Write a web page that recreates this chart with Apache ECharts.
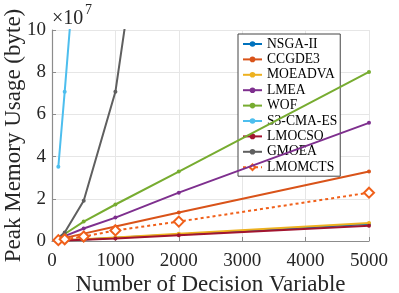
<!DOCTYPE html>
<html><head><meta charset="utf-8">
<script src="https://cdn.jsdelivr.net/npm/echarts@6/dist/echarts.min.js"></script>
<style>html,body{margin:0;padding:0;background:#fff}#c{width:399px;height:293px}</style>
</head><body><div id="c"></div>
<script>
const decisionVars = [100, 200, 500, 1000, 2000, 5000];
const nsga2   = [0.015e7, 0.03e7, 0.075e7, 0.15e7, 0.31e7, 0.80e7];
const ccgde3  = [0.07e7, 0.14e7, 0.35e7, 0.69e7, 1.35e7, 3.29e7];
const moeadva = [0.02e7, 0.035e7, 0.085e7, 0.17e7, 0.34e7, 0.85e7];
const lmea    = [0.11e7, 0.23e7, 0.59e7, 1.11e7, 2.29e7, 5.6e7];
const wof     = [0.17e7, 0.33e7, 0.92e7, 1.73e7, 3.29e7, 8.01e7];
const s3cmaes = [3.52e7, 7.07e7, 18.2e7, 36e7, 72e7, 180e7];
const lmocso  = [0.012e7, 0.025e7, 0.06e7, 0.12e7, 0.27e7, 0.72e7];
const gmoea   = [0.15e7, 0.4e7, 1.91e7, 7.07e7, 27.7e7, 170e7];
const lmomcts = [0.04e7, 0.08e7, 0.21e7, 0.5e7, 0.92e7, 2.29e7];
const seriesNames = ['NSGA-II','CCGDE3','MOEADVA','LMEA','WOF','S3-CMA-ES','LMOCSO','GMOEA','LMOMCTS'];
const seriesData = [nsga2, ccgde3, moeadva, lmea, wof, s3cmaes, lmocso, gmoea, lmomcts];
const colors = ['#0072BD','#D95319','#EDB120','#7E2F8E','#77AC30','#4DBEEE','#A2142F','#5f5f5f','#F0601A'];
const xTicks = [0, 1000, 2000, 3000, 4000, 5000];
const yTicks = [0, 2, 4, 6, 8, 10];

const FONT = 'Liberation Serif';
const chart = echarts.init(document.getElementById('c'), null, {renderer: 'canvas'});
const series = seriesNames.map((n, i) => {
  const isLast = n === 'LMOMCTS';
  return {
    name: n, type: 'line',
    data: decisionVars.map((x, j) => [x, seriesData[i][j]]),
    clip: true,
    symbol: isLast ? 'emptyDiamond' : 'circle',
    symbolSize: isLast ? 10 : 4,
    showAllSymbol: true,
    itemStyle: {color: colors[i], borderWidth: isLast ? 2 : 0},
    lineStyle: {color: colors[i], width: 2, type: isLast ? [3, 3] : 'solid'},
    emphasis: {disabled: true},
    animation: false,
    z: 2 + i
  };
});
chart.setOption({
  animation: false,
  color: colors,
  textStyle: {fontFamily: FONT},
  grid: {left: 52, right: 30, top: 30, bottom: 52, containLabel: false, outerBoundsMode: 'none'},
  xAxis: {
    type: 'value', min: 0, max: 5000, interval: 1000,
    name: 'Number of Decision Variable', nameLocation: 'middle', nameGap: 32,
    nameMoveOverlap: false,
    nameTextStyle: {fontFamily: FONT, fontSize: 23, color: '#262626'},
    axisLine: {show: true, lineStyle: {color: '#8c8c8c', width: 1.2}},
    axisTick: {show: true, inside: true, length: 4, lineStyle: {color: '#8c8c8c'}},
    axisLabel: {fontFamily: FONT, fontSize: 19, color: '#262626', margin: 11,
      formatter: v => xTicks.includes(v) ? String(v) : ''},
    splitLine: {show: true, lineStyle: {color: '#e6e6e6', width: 1}}
  },
  yAxis: {
    type: 'value', min: 0, max: 1e8, interval: 2e7,
    name: 'Peak Memory Usage (byte)', nameLocation: 'middle', nameGap: 27,
    nameMoveOverlap: false,
    nameTextStyle: {fontFamily: FONT, fontSize: 23, color: '#262626'},
    axisLine: {show: true, lineStyle: {color: '#8c8c8c', width: 1.2}},
    axisTick: {show: true, inside: true, length: 4, lineStyle: {color: '#8c8c8c'}},
    axisLabel: {fontFamily: FONT, fontSize: 19, color: '#262626', margin: 6,
      formatter: v => { const t = Math.round(v / 1e7); return yTicks.includes(t) ? String(t) : ''; }},
    splitLine: {show: true, lineStyle: {color: '#e6e6e6', width: 1}}
  },
  legend: {
    orient: 'vertical', left: 238, top: 34,
    padding: [3, 3, 2, 4],
    itemWidth: 19, itemHeight: 7, itemGap: 1.4,
    backgroundColor: '#ffffff', borderColor: '#444', borderWidth: 1,
    textStyle: {fontFamily: FONT, fontSize: 13.6, color: '#000'},
    data: seriesNames
  },
  graphic: [
    {type: 'text', left: 52, top: 9, z: 100,
      style: {text: '×10', fontFamily: FONT, fontSize: 20, fill: '#262626'}},
    {type: 'text', left: 85, top: 3, z: 100,
      style: {text: '7', fontFamily: FONT, fontSize: 14, fill: '#262626'}}
  ],
  series: series
});
</script></body></html>
